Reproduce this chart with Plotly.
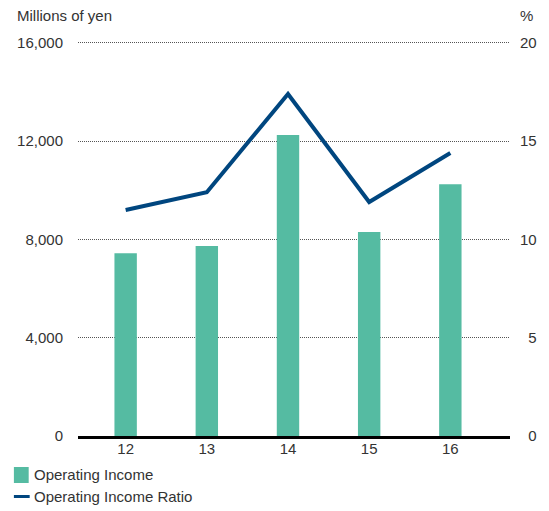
import plotly.graph_objects as go

# Fiscal years and results
years = ["12", "13", "14", "15", "16"]
operating_income = [7440, 7730, 12250, 8300, 10250]        # millions of yen
operating_income_ratio = [11.5, 12.4, 17.4, 11.9, 14.4]     # %

left_ticks = [0, 4000, 8000, 12000, 16000]
left_ticktext = ["0", "4,000", "8,000", "12,000", "16,000"]
right_ticks = [0, 5, 10, 15, 20]
right_ticktext = ["\u00a0\u00a00", "\u00a0\u00a05", "10", "15", "20"]

BAR_COLOR = "#55bba2"
LINE_COLOR = "#00467f"
TEXT_COLOR = "#333333"
FONT = "Liberation Sans, Arial, sans-serif"

W, H = 549, 511
L, R, T, B = 78, 33, 33, 75
plot_w = W - L - R
plot_h = H - T - B

# headroom above the top gridline so it stays inside the plot area
Y_TOP = 16400
Y2_TOP = Y_TOP / 800.0


def px_x(x):
    return (x - L) / plot_w


def px_y(y):
    return (H - B - y) / plot_h


x_idx = list(range(len(years)))

fig = go.Figure()
fig.add_trace(go.Bar(
    x=x_idx, y=operating_income, width=0.276,
    marker=dict(color=BAR_COLOR, line=dict(width=0)),
    name="Operating Income", yaxis="y",
))
fig.add_trace(go.Scatter(
    x=x_idx, y=operating_income_ratio, mode="lines",
    line=dict(color=LINE_COLOR, width=4),
    name="Operating Income Ratio", yaxis="y2",
))

fig.update_layout(
    width=W, height=H,
    margin=dict(l=L, r=R, t=T, b=B, pad=0),
    plot_bgcolor="white", paper_bgcolor="white",
    font=dict(family=FONT, size=15, color=TEXT_COLOR),
    showlegend=False,
    xaxis=dict(
        range=[-0.587, 4.735],
        tickmode="array", tickvals=x_idx, ticktext=years,
        showgrid=False, zeroline=False, ticks="",
        showline=True, linecolor="black", linewidth=3,
        ticklabelstandoff=-3,
        fixedrange=True,
    ),
    yaxis=dict(
        range=[0, Y_TOP],
        tickmode="array", tickvals=left_ticks, ticktext=left_ticktext,
        showgrid=True, gridcolor="#555555", griddash="1px,1px", gridwidth=1,
        zeroline=False, ticks="", showline=False,
        ticklabelstandoff=14,
    ),
    yaxis2=dict(
        range=[0, Y2_TOP], overlaying="y", side="right",
        tickmode="array", tickvals=right_ticks, ticktext=right_ticktext,
        showgrid=False, zeroline=False, ticks="", showline=False,
        ticklabelstandoff=9,
    ),
)

# Axis unit labels
fig.add_annotation(text="Millions of yen", xref="paper", yref="paper",
                   x=px_x(14), y=px_y(16), xanchor="left", yanchor="middle",
                   showarrow=False, font=dict(size=15, color=TEXT_COLOR))
fig.add_annotation(text="%", xref="paper", yref="paper",
                   x=px_x(541), y=px_y(15), xanchor="right", yanchor="middle",
                   showarrow=False, font=dict(size=15, color=TEXT_COLOR))

# Legend
fig.add_shape(type="rect", xref="paper", yref="paper",
              x0=px_x(13), x1=px_x(28), y0=px_y(467), y1=px_y(483),
              fillcolor=BAR_COLOR, line=dict(width=0))
fig.add_annotation(text="Operating Income", xref="paper", yref="paper",
                   x=px_x(31), y=px_y(475), xanchor="left", yanchor="middle",
                   showarrow=False, font=dict(size=15, color=TEXT_COLOR))
fig.add_shape(type="line", xref="paper", yref="paper",
              x0=px_x(13), x1=px_x(29), y0=px_y(496.5), y1=px_y(496.5),
              line=dict(color=LINE_COLOR, width=3))
fig.add_annotation(text="Operating Income Ratio", xref="paper", yref="paper",
                   x=px_x(31), y=px_y(496), xanchor="left", yanchor="middle",
                   showarrow=False, font=dict(size=15, color=TEXT_COLOR))

fig.write_html("out.html")
